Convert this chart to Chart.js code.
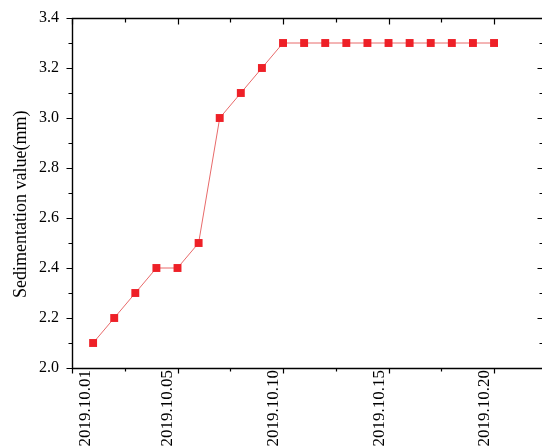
<!DOCTYPE html>
<html>
<head>
<meta charset="utf-8">
<script src="https://cdn.jsdelivr.net/npm/chart.js@4.4.1/dist/chart.umd.min.js"></script>
<style>
  html, body { margin: 0; padding: 0; background: #fff; overflow: hidden; }
  #wrap { width: 550px; height: 448px; }
</style>
</head>
<body>
<div id="wrap"><canvas id="chart1" width="550" height="448"></canvas></div>
<script>
// Sedimentation value per day, 2019.10.01 - 2019.10.20
const dates = ['2019.10.01', '2019.10.02', '2019.10.03', '2019.10.04', '2019.10.05', '2019.10.06', '2019.10.07',
    '2019.10.08', '2019.10.09', '2019.10.10', '2019.10.11', '2019.10.12', '2019.10.13', '2019.10.14',
    '2019.10.15', '2019.10.16', '2019.10.17', '2019.10.18', '2019.10.19', '2019.10.20'];
const sediment = [2.1, 2.2, 2.3, 2.4, 2.4, 2.5, 3.0, 3.1, 3.2, 3.3, 3.3, 3.3, 3.3, 3.3, 3.3, 3.3, 3.3, 3.3, 3.3, 3.3];

// axis ticks (day index on x)
const xTickLabels = ['2019.10.01', '2019.10.05', '2019.10.10', '2019.10.15', '2019.10.20'];
const xLabelPos = [0.65, 4.55, 9.55, 14.55, 19.55];
const xMajor = [0, 5, 10, 15, 20];
const xMinor = [2.5, 7.5, 12.5, 17.5];
const yMajor = [2.0, 2.2, 2.4, 2.6, 2.8, 3.0, 3.2, 3.4];
const yMinor = [2.1, 2.3, 2.5, 2.7, 2.9, 3.1, 3.3];

const points = dates.map((d, i) => ({ x: i + 1, y: sediment[i] }));
const serif = "'Liberation Serif', 'Times New Roman', serif";

// frame + inward/outward ticks like the original plot
const frameTicks = {
    id: 'frameTicks',
    afterDraw(chart) {
        const c = chart.ctx, a = chart.chartArea;
        const xs = chart.scales.x, ys = chart.scales.y;
        const L = Math.round(a.left) + 0.5, R = Math.round(a.right) + 0.5;
        const T = Math.round(a.top) + 0.5, B = Math.round(a.bottom) + 0.5;
        c.save();
        c.strokeStyle = '#000';
        c.lineWidth = 1.4;
        c.beginPath();
        c.moveTo(L, T); c.lineTo(R, T); c.lineTo(R, B); c.lineTo(L, B); c.closePath();
        c.stroke();
        c.lineWidth = 1.2;
        c.beginPath();
        yMajor.forEach(v => {
            const y = Math.round(ys.getPixelForValue(v)) + 0.5;
            c.moveTo(L - 6, y); c.lineTo(L, y);
            c.moveTo(R, y); c.lineTo(R - 6, y);
        });
        yMinor.forEach(v => {
            const y = Math.round(ys.getPixelForValue(v)) + 0.5;
            c.moveTo(L - 4, y); c.lineTo(L, y);
            c.moveTo(R, y); c.lineTo(R - 4, y);
        });
        xMajor.forEach(v => {
            const x = Math.round(xs.getPixelForValue(v)) + 0.5;
            c.moveTo(x, B); c.lineTo(x, B + 5);
            c.moveTo(x, T); c.lineTo(x, T + 6);
        });
        xMinor.forEach(v => {
            const x = Math.round(xs.getPixelForValue(v)) + 0.5;
            c.moveTo(x, B); c.lineTo(x, B + 3);
            c.moveTo(x, T); c.lineTo(x, T + 4);
        });
        c.stroke();
        c.restore();
    }
};

const ctx1 = document.getElementById('chart1').getContext('2d');
const chart1 = new Chart(ctx1, {
    type: 'line',
    data: {
        datasets: [{
            label: 'Sedimentation',
            data: points,
            borderColor: '#e86a6a',
            borderWidth: 1,
            pointStyle: 'rect',
            pointRadius: 5.6,
            pointBackgroundColor: '#ee2027',
            pointBorderColor: '#ee2027',
            pointBorderWidth: 0,
            tension: 0
        }]
    },
    options: {
        responsive: false,
        animation: false,
        layout: { padding: { top: 18, right: 7, left: 0, bottom: 0 } },
        plugins: {
            legend: { display: false },
            tooltip: { enabled: false }
        },
        scales: {
            x: {
                type: 'linear',
                min: 0,
                max: 22.32,
                grid: { display: false, drawTicks: false },
                border: { display: false },
                afterBuildTicks: function(scale) {
                    scale.ticks = xLabelPos.map(v => ({ value: v }));
                },
                afterFit: function(scale) {
                    scale.height = 80;
                    scale.paddingLeft = 0;
                    scale.paddingRight = 0;
                },
                ticks: {
                    autoSkip: false,
                    minRotation: 90,
                    maxRotation: 90,
                    padding: 2,
                    color: '#000',
                    font: { family: serif, size: 17 },
                    callback: function(value, index) { return xTickLabels[index]; }
                }
            },
            y: {
                min: 2.0,
                max: 3.4,
                grid: { display: false, drawTicks: false },
                border: { display: false },
                afterFit: function(scale) {
                    scale.width = 72;
                    scale.paddingTop = 0;
                    scale.paddingBottom = 0;
                },
                title: {
                    display: true,
                    text: 'Sedimentation value(mm)\u00a0\u00a0\u00a0\u00a0\u00a0',
                    color: '#000',
                    font: { family: serif, size: 18 },
                    padding: { top: 10, bottom: 0 }
                },
                ticks: {
                    stepSize: 0.2,
                    padding: 13,
                    color: '#000',
                    font: { family: serif, size: 16 },
                    callback: function(value) { return value.toFixed(1); }
                }
            }
        }
    },
    plugins: [frameTicks]
});
</script>
</body>
</html>
